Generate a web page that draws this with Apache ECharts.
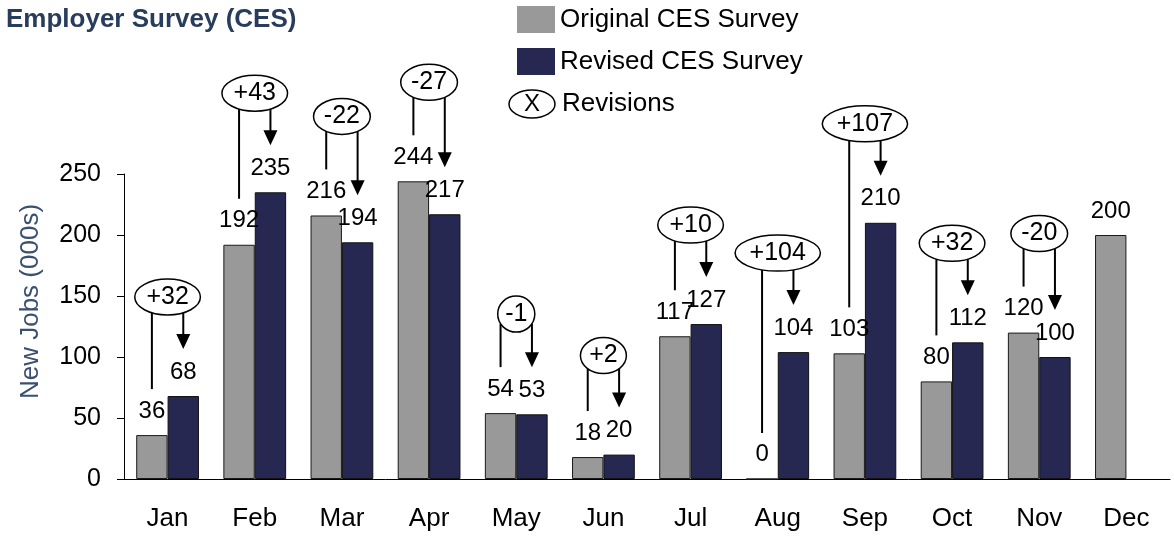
<!DOCTYPE html>
<html>
<head>
<meta charset="utf-8">
<script src="https://cdn.jsdelivr.net/npm/echarts@6/dist/echarts.min.js"></script>
<style>
html, body { margin: 0; padding: 0; background: #fff; }
#chart { width: 1174px; height: 537px; }
</style>
</head>
<body>
<div id="chart"></div>
<script>
var months = ['Jan', 'Feb', 'Mar', 'Apr', 'May', 'Jun', 'Jul', 'Aug', 'Sep', 'Oct', 'Nov', 'Dec']
var original = [36, 192, 216, 244, 54, 18, 117, 0, 103, 80, 120, 200]
var revised = [68, 235, 194, 217, 53, 20, 127, 104, 210, 112, 100, null]
var revisions = ['+32', '+43', '-22', '-27', '-1', '+2', '+10', '+104', '+107', '+32', '-20']

var FONT = '"Liberation Sans", Arial, Helvetica, sans-serif'
var GRAY = '#999999'
var NAVY = '#262852'

var measureCtx = document.createElement('canvas').getContext('2d')
function textWidth(t, size) {
	measureCtx.font = size + 'px ' + FONT
	return measureCtx.measureText(t).width
}

// ellipse + line + arrow for each revision
function renderRevision(params, api) {
	var i = api.value(0)
	var orig = api.value(1)
	var rev = api.value(2)
	var band = api.size([1, 0])[0]
	var barW = band * 0.36
	var cx = api.coord([i, 0])[0]
	var xL = cx - barW / 2
	var xR = cx + barW / 2
	var yO = api.coord([i, orig])[1]
	var yR = api.coord([i, rev])[1]
	var cy = Math.min(yO, yR) - 99
	var text = revisions[params.dataIndex]
	var rx = (textWidth(text, 25) / 2 + 2) * Math.SQRT2
	var ry = 18
	function edge(x) {
		var d = (x - cx) / rx
		return cy + ry * Math.sqrt(Math.max(0, 1 - d * d))
	}
	var tip = yR - 47
	var lineStyle = { stroke: '#000', lineWidth: 2 }
	return {
		type: 'group',
		children: [
			{ type: 'line', shape: { x1: xL, y1: edge(xL), x2: xL, y2: yO - 46 }, style: lineStyle },
			{ type: 'line', shape: { x1: xR, y1: edge(xR), x2: xR, y2: tip - 14 }, style: lineStyle },
			{ type: 'polygon', shape: { points: [[xR - 7, tip - 15], [xR + 7, tip - 15], [xR, tip]] }, style: { fill: '#000' } },
			{ type: 'ellipse', shape: { cx: cx, cy: cy, rx: rx, ry: ry }, style: { fill: '#fff', stroke: '#000', lineWidth: 1.5 } },
			{ type: 'text', x: cx, y: cy, style: { text: text, align: 'center', verticalAlign: 'middle', font: '25px ' + FONT, fill: '#000' } }
		]
	}
}

var revData = revisions.map(function (r, i) { return [i, original[i], revised[i]] })

var chart = echarts.init(document.getElementById('chart'))
chart.setOption({
	animation: false,
	textStyle: { fontFamily: FONT },
	title: {
		text: 'Employer Survey (CES)',
		left: 0,
		top: 0,
		padding: [7, 6],
		textStyle: { color: '#283c5c', fontSize: 26, fontWeight: 'bold', fontFamily: FONT }
	},
	legend: {
		data: ['Original CES Survey', 'Revised CES Survey'],
		orient: 'vertical',
		left: 517,
		top: 6,
		padding: 0,
		itemWidth: 38,
		itemHeight: 27,
		itemGap: 15,
		icon: 'rect',
		itemStyle: { borderWidth: 0 },
		textStyle: { fontSize: 26, color: '#000', fontFamily: FONT }
	},
	graphic: [
		{ type: 'ellipse', shape: { cx: 532, cy: 104, rx: 23, ry: 14 }, style: { fill: '#fff', stroke: '#000', lineWidth: 1.5 } },
		{ type: 'text', x: 532, y: 104, style: { text: 'X', align: 'center', verticalAlign: 'middle', font: '24px ' + FONT, fill: '#000' } },
		{ type: 'text', x: 562, y: 104, style: { text: 'Revisions', align: 'left', verticalAlign: 'middle', font: '26px ' + FONT, fill: '#000' } }
	],
	grid: { left: 124, right: 4, top: 174, bottom: 58 },
	xAxis: {
		type: 'category',
		data: months,
		axisLine: { lineStyle: { color: '#000', width: 1 } },
		axisTick: { show: false },
		axisLabel: { fontSize: 26, color: '#000', margin: 27 }
	},
	yAxis: {
		type: 'value',
		min: 0,
		max: 250,
		interval: 50,
		name: 'New Jobs (000s)',
		nameLocation: 'middle',
		nameGap: 80,
		nameTextStyle: { fontSize: 26, color: '#3b5070', padding: [0, 0, 0, 50] },
		splitLine: { show: false },
		axisLine: { show: true, lineStyle: { color: '#000', width: 1 } },
		axisTick: { show: true, length: 7, lineStyle: { color: '#000' } },
		axisLabel: { fontSize: 25, color: '#000', margin: 23 }
	},
	series: [
		{
			name: 'Original CES Survey',
			type: 'bar',
			data: original,
			barGap: '0%',
			barCategoryGap: '28%',
			itemStyle: { color: GRAY, borderColor: '#1a1a1a', borderWidth: 1 },
			label: { show: true, position: 'top', distance: 12, fontSize: 24, color: '#000' }
		},
		{
			name: 'Revised CES Survey',
			type: 'bar',
			data: revised,
			itemStyle: { color: NAVY, borderColor: '#111', borderWidth: 1 },
			label: { show: true, position: 'top', distance: 12, fontSize: 24, color: '#000' }
		},
		{
			name: 'Revisions',
			type: 'custom',
			renderItem: renderRevision,
			data: revData,
			encode: { x: 0, y: [1, 2] },
			clip: false,
			z: 1
		}
	]
})
</script>
</body>
</html>
